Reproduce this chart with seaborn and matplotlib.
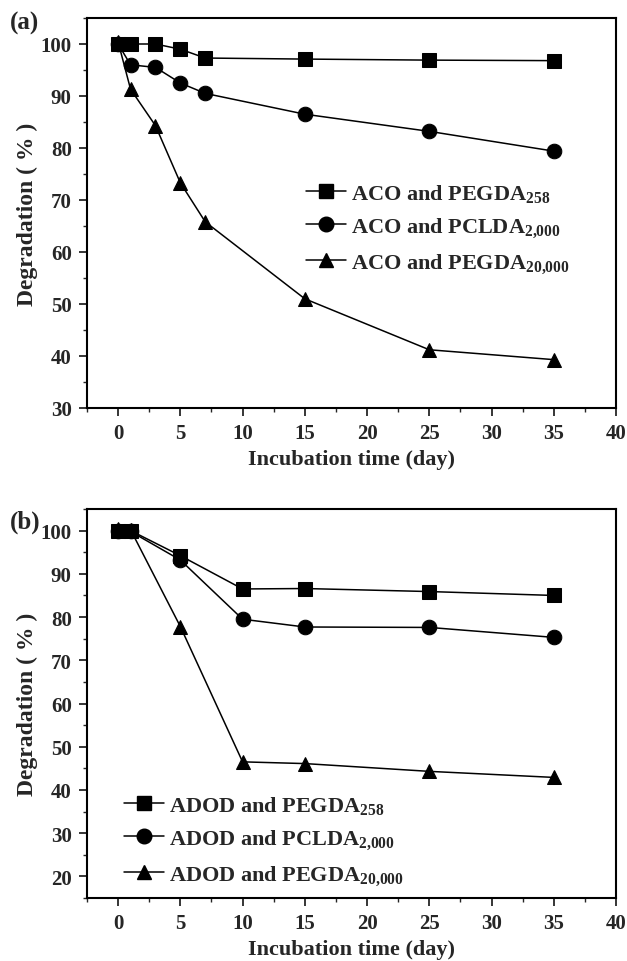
import matplotlib
matplotlib.use("Agg")
import matplotlib.pyplot as plt
import seaborn as sns
import pandas as pd
from matplotlib.ticker import MultipleLocator
from matplotlib.lines import Line2D

# ---- data ----
days_a = [0, 1, 3, 5, 7, 15, 25, 35]
a_pegda258 = [100, 100, 100, 99.0, 97.3, 97.1, 96.9, 96.8]
a_pclda2000 = [100, 96.0, 95.5, 92.5, 90.5, 86.5, 83.2, 79.4]
a_pegda20000 = [100.4, 91.3, 84.3, 73.3, 65.8, 51.0, 41.2, 39.3]
labels_a = ["ACO and PEGDA$_{258}$", "ACO and PCLDA$_{2{,}000}$", "ACO and PEGDA$_{20{,}000}$"]

days_b = [0, 1, 5, 10, 15, 25, 35]
b_pegda258 = [100, 100, 94.2, 86.5, 86.6, 85.9, 85.0]
b_pclda2000 = [100, 99.8, 93.2, 79.5, 77.7, 77.6, 75.3]
b_pegda20000 = [100.4, 100.2, 77.8, 46.5, 46.1, 44.3, 42.9]
labels_b = ["ADOD and PEGDA$_{258}$", "ADOD and PCLDA$_{2{,}000}$", "ADOD and PEGDA$_{20{,}000}$"]

xticks = [0, 5, 10, 15, 20, 25, 30, 35, 40]
xlabel = "Incubation time (day)"
ylabel = "Degradation ( % )"

sns.set_style("white")
plt.rcParams["font.family"] = ["Liberation Serif", "DejaVu Serif"]
plt.rcParams["font.weight"] = "bold"
plt.rcParams["mathtext.fontset"] = "custom"
plt.rcParams["mathtext.rm"] = "Liberation Serif:bold"
plt.rcParams["mathtext.bf"] = "Liberation Serif:bold"
plt.rcParams["mathtext.it"] = "Liberation Serif:bold"
plt.rcParams["mathtext.default"] = "rm"

markers = ["s", "o", "^"]


def make_df(days, series, labels):
    rows = []
    for vals, lab in zip(series, labels):
        for d, v in zip(days, vals):
            rows.append({"day": d, "val": v, "series": lab})
    return pd.DataFrame(rows)


fig = plt.figure(figsize=(6.27, 9.62), dpi=100)
W, H = 627, 962
ax_a = fig.add_axes([87 / W, 1 - 409 / H, 529 / W, 390 / H])
ax_b = fig.add_axes([87 / W, 1 - 899 / H, 529 / W, 389 / H])


def draw(ax, days, series, labels, ylim, yticks, legend_loc):
    df = make_df(days, series, labels)
    sns.lineplot(data=df, x="day", y="val", style="series", style_order=labels,
                 markers=markers, dashes=False, color="black", markersize=10.5,
                 markeredgecolor="black", linewidth=1.1, ax=ax, legend=False)
    ax.set_xlim(-2.5, 40)
    ax.set_ylim(*ylim)
    ax.set_xticks(xticks)
    ax.set_yticks(yticks)
    ax.xaxis.set_minor_locator(MultipleLocator(2.5))
    ax.yaxis.set_minor_locator(MultipleLocator(5))
    ax.tick_params(axis="both", which="major", direction="out", length=6, width=1.3,
                   labelsize=15, pad=5, bottom=True, left=True)
    ax.tick_params(axis="both", which="minor", direction="out", length=3, width=1.0,
                   bottom=True, left=True)
    for lab in ax.get_xticklabels() + ax.get_yticklabels():
        lab.set_fontweight("bold")
    for sp in ax.spines.values():
        sp.set_linewidth(1.5)
        sp.set_color("black")
    ax.set_xlabel(xlabel, fontsize=16, fontweight="bold", labelpad=4)
    ax.set_ylabel(ylabel, fontsize=17, fontweight="bold", labelpad=2)
    handles = [Line2D([0], [0], color="black", marker=m, markersize=10.5, linewidth=1.1)
               for m in markers]
    ax.legend(handles, labels, frameon=False, prop={"size": 16, "weight": "bold"},
              handlelength=1.8, handletextpad=0.25, labelspacing=0.55, **legend_loc)


draw(ax_a, days_a, [a_pegda258, a_pclda2000, a_pegda20000], labels_a,
     (30, 105), [30, 40, 50, 60, 70, 80, 90, 100],
     dict(loc="upper left", bbox_to_anchor=(0.376, 0.632)))
draw(ax_b, days_b, [b_pegda258, b_pclda2000, b_pegda20000], labels_b,
     (15, 105), [20, 30, 40, 50, 60, 70, 80, 90, 100],
     dict(loc="lower left", bbox_to_anchor=(0.032, -0.023)))

fig.text(10 / W, 1 - 23 / H, "(a)", fontsize=18, fontweight="bold", va="center", ha="left")
fig.text(10 / W, 1 - 522 / H, "(b)", fontsize=18, fontweight="bold", va="center", ha="left")

fig.savefig("out.png", dpi=100, facecolor="white")
